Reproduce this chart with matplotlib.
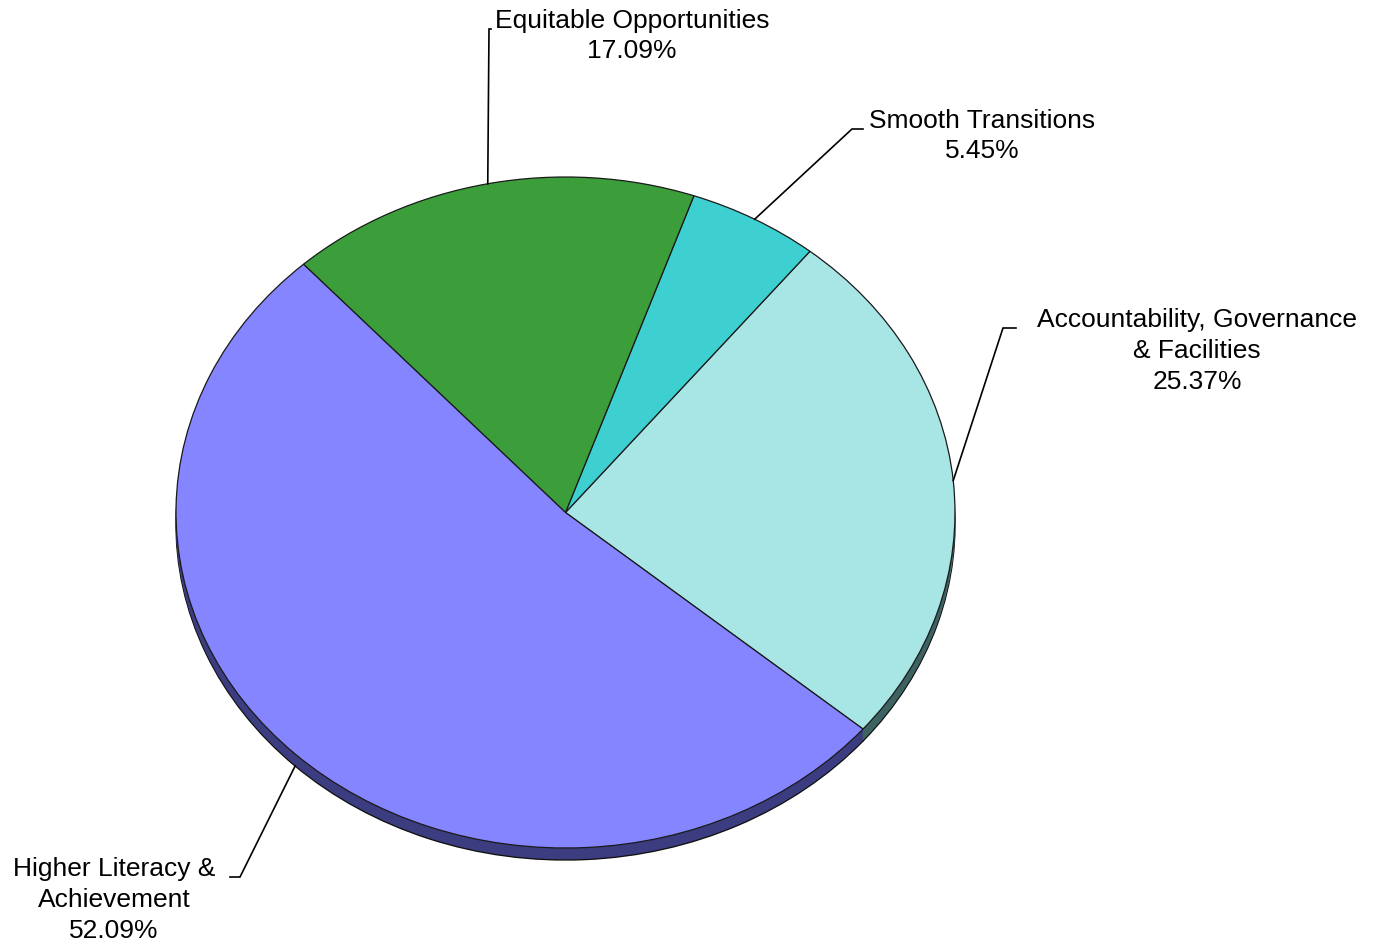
import numpy as np
import matplotlib
matplotlib.use('Agg')
import matplotlib.pyplot as plt

plt.rcParams['font.family'] = ['Liberation Sans', 'DejaVu Sans']

# data (counterclockwise order, starting from the lower right)
labels = ['Accountability, Governance\n& Facilities', 'Smooth Transitions',
          'Equitable Opportunities', 'Higher Literacy &\nAchievement']
shares = [25.37, 5.45, 17.09, 52.09]
colors = ['#a8e5e5', '#3ecfd0', '#3b9e3b', '#8585ff']
side_colors = ['#3d6262', '#2a7a7a', '#256025', '#3c3c80']

W, H = 1380, 946
cx, cy = 565.5, 512.5      # pie centre in pixels
rx, ry = 389.5, 335.5      # ellipse radii in pixels
depth = 12                 # thickness of the pie in pixels

def px(x, y):
    # pixel position -> data position
    return (x - cx) / rx, (cy - y) / ry

fig = plt.figure(figsize=(W / 100, H / 100), dpi=100)
ax = fig.add_axes([0, 0, 1, 1])

# side of the pie: stack of darker copies shifted down
for k in range(depth, 0, -1):
    ec = '#111111' if k == depth else 'none'
    ax.pie(shares, colors=side_colors, startangle=-40.2, counterclock=True,
           center=(0, -k / ry), radius=1,
           wedgeprops=dict(edgecolor=ec, linewidth=1.0, antialiased=True))

# top face
wedges, _ = ax.pie(shares, colors=colors, startangle=-40.2, counterclock=True,
                   center=(0, 0), radius=1,
                   wedgeprops=dict(edgecolor='#1a1a1a', linewidth=0.9))

ax.set_aspect('auto')
ax.set_xlim((0 - cx) / rx, (W - cx) / rx)
ax.set_ylim((cy - H) / ry, cy / ry)
ax.axis('off')

# label layout: text centre, elbow of leader line, end of leader line (pixels)
text_pos = [(1197, 351), (982, 136), (632, 36), (114, 900)]
elbow = [(1003, 328), (852, 129), (489, 29), (240, 877)]
line_end = [(1016, 328), (863, 129), (491, 29), (230, 877)]

for i, w in enumerate(wedges):
    mid = np.deg2rad((w.theta1 + w.theta2) / 2)
    ax0, ay0 = np.cos(mid), np.sin(mid)
    if ay0 < -0.3:
        ay0 -= depth / ry
    ex, ey = px(*elbow[i])
    lx, ly = px(*line_end[i])
    ax.plot([ax0, ex, lx], [ay0, ey, ly], color='black', lw=1.2,
            solid_joinstyle='miter')
    tx, ty = px(*text_pos[i])
    ax.text(tx, ty, f'{labels[i]}\n{shares[i]:.2f}%', ha='center', va='center',
            multialignment='center', fontsize=19, color='black',
            linespacing=1.35)

fig.savefig('out.png', dpi=100, facecolor='white')
